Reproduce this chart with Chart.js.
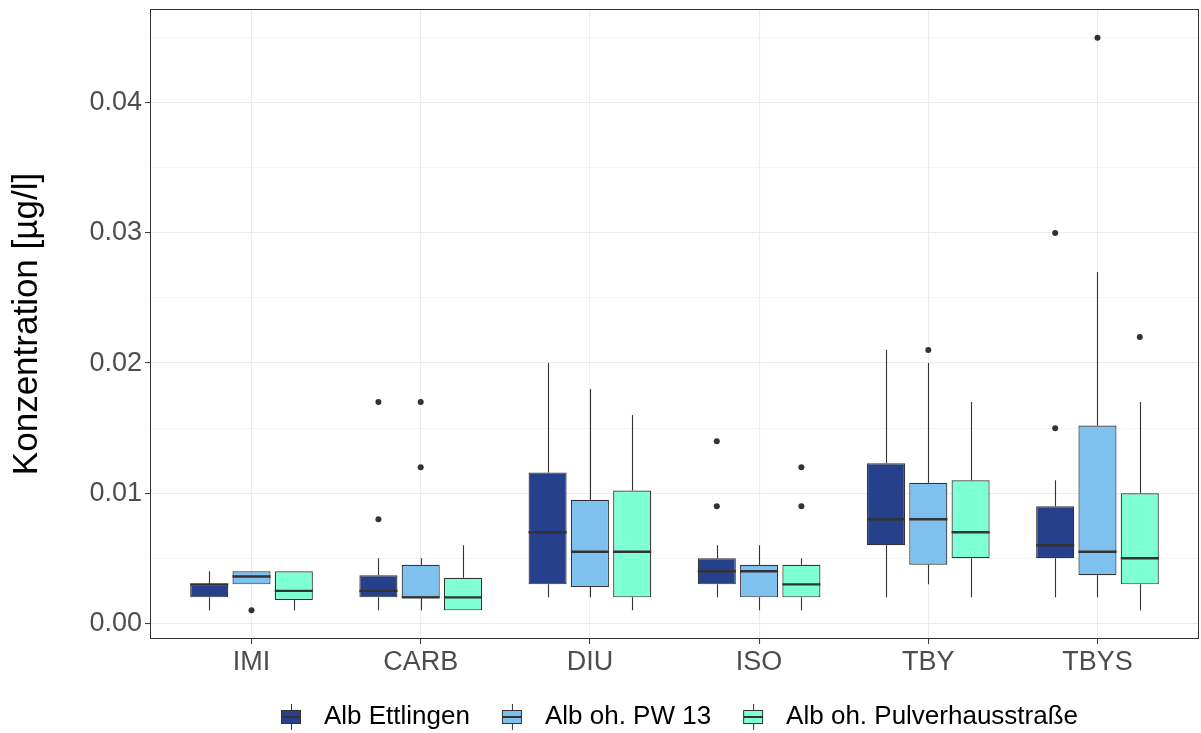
<!DOCTYPE html>
<html>
<head>
<meta charset="utf-8">
<script src="https://cdn.jsdelivr.net/npm/chart.js@4.4.1/dist/chart.umd.min.js"></script>
<style>
html,body{margin:0;padding:0;background:#ffffff;}
#wrap{width:1201px;height:733px;}
</style>
</head>
<body>
<div id="wrap"><canvas id="c" width="1201" height="733"></canvas></div>
<script>
// ---------- data ----------
const categories = ['IMI', 'CARB', 'DIU', 'ISO', 'TBY', 'TBYS'];
const seriesNames = ['Alb Ettlingen', 'Alb oh. PW 13', 'Alb oh. Pulverhausstraße'];
const seriesColors = ['#27408B', '#7EC0EE', '#7FFFD4'];
const yMajorTicks = [0.00, 0.01, 0.02, 0.03, 0.04];
const yMinorTicks = [0.005, 0.015, 0.025, 0.035, 0.045];

// Alb Ettlingen
const ettlingenLow    = [0.001, 0.001,  0.002,  0.002, 0.002,  0.002];
const ettlingenQ1     = [0.002, 0.002,  0.003,  0.003, 0.006,  0.005];
const ettlingenMedian = [0.003, 0.0025, 0.007,  0.004, 0.008,  0.006];
const ettlingenQ3     = [0.003, 0.0037, 0.0116, 0.005, 0.0123, 0.009];
const ettlingenHigh   = [0.004, 0.005,  0.020,  0.006, 0.021,  0.011];
const ettlingenOutliers = [[], [0.008, 0.017], [], [0.009, 0.014], [], [0.015, 0.030]];

// Alb oh. PW 13
const pw13Low    = [0.003,  0.001,  0.002,  0.001,  0.003,  0.002];
const pw13Q1     = [0.003,  0.002,  0.0028, 0.002,  0.0045, 0.0037];
const pw13Median = [0.0036, 0.002,  0.0055, 0.004,  0.008,  0.0055];
const pw13Q3     = [0.004,  0.0045, 0.0095, 0.0045, 0.0108, 0.0152];
const pw13High   = [0.004,  0.005,  0.018,  0.006,  0.020,  0.027];
const pw13Outliers = [[0.001], [0.012, 0.017], [], [], [0.021], [0.045]];

// Alb oh. Pulverhausstraße
const pulverLow    = [0.001,  0.001,  0.001,  0.001,  0.002, 0.001];
const pulverQ1     = [0.0018, 0.001,  0.002,  0.002,  0.005, 0.003];
const pulverMedian = [0.0025, 0.002,  0.0055, 0.003,  0.007, 0.005];
const pulverQ3     = [0.004,  0.0035, 0.0102, 0.0045, 0.011, 0.010];
const pulverHigh   = [0.004,  0.006,  0.016,  0.005,  0.017, 0.017];
const pulverOutliers = [[], [], [], [0.009, 0.012], [], [0.022]];

const stats = [
  {low: ettlingenLow, q1: ettlingenQ1, med: ettlingenMedian, q3: ettlingenQ3, high: ettlingenHigh, out: ettlingenOutliers},
  {low: pw13Low, q1: pw13Q1, med: pw13Median, q3: pw13Q3, high: pw13High, out: pw13Outliers},
  {low: pulverLow, q1: pulverQ1, med: pulverMedian, q3: pulverQ3, high: pulverHigh, out: pulverOutliers}
];

// ---------- styling ----------
const FONT = "'Liberation Sans', Arial, sans-serif";
const INK = '#333333';

function keyCanvas(color) {
  const c = document.createElement('canvas');
  c.width = 22; c.height = 26;
  const g = c.getContext('2d');
  g.strokeStyle = INK;
  g.lineWidth = 1;
  g.beginPath(); g.moveTo(11.5, 0); g.lineTo(11.5, 26); g.stroke();
  g.fillStyle = color;
  g.fillRect(1.5, 6.5, 19, 13);
  g.strokeRect(1.5, 6.5, 19, 13);
  g.lineWidth = 2;
  g.beginPath(); g.moveTo(1.5, 13); g.lineTo(20.5, 13); g.stroke();
  return c;
}
const keys = seriesColors.map(keyCanvas);

const boxExtras = {
  id: 'boxExtras',
  beforeDatasetsDraw(chart) {
    const ctx = chart.ctx, ys = chart.scales.y;
    ctx.save();
    ctx.strokeStyle = INK; ctx.lineWidth = 1.1;
    stats.forEach((s, j) => {
      chart.getDatasetMeta(j).data.forEach((el, i) => {
        const x = Math.round(el.x) + 0.5;
        ctx.beginPath();
        ctx.moveTo(x, ys.getPixelForValue(s.low[i]));
        ctx.lineTo(x, ys.getPixelForValue(s.q1[i]));
        ctx.moveTo(x, ys.getPixelForValue(s.q3[i]));
        ctx.lineTo(x, ys.getPixelForValue(s.high[i]));
        ctx.stroke();
      });
    });
    ctx.restore();
  },
  afterDatasetsDraw(chart) {
    const ctx = chart.ctx, ys = chart.scales.y;
    ctx.save();
    stats.forEach((s, j) => {
      chart.getDatasetMeta(j).data.forEach((el, i) => {
        const y = ys.getPixelForValue(s.med[i]);
        ctx.strokeStyle = INK; ctx.lineWidth = 2.4;
        ctx.beginPath();
        ctx.moveTo(el.x - el.width / 2, y);
        ctx.lineTo(el.x + el.width / 2, y);
        ctx.stroke();
        ctx.fillStyle = INK;
        s.out[i].forEach(v => {
          ctx.beginPath();
          ctx.arc(el.x, ys.getPixelForValue(v), 3, 0, Math.PI * 2);
          ctx.fill();
        });
      });
    });
    const a = chart.chartArea;
    ctx.strokeStyle = INK; ctx.lineWidth = 1;
    ctx.strokeRect(Math.round(a.left) + 0.5, Math.round(a.top) + 0.5,
                   Math.round(a.right - a.left) - 1, Math.round(a.bottom - a.top) - 1);
    ctx.restore();
  }
};

const datasets = stats.map((s, j) => ({
  label: seriesNames[j],
  data: categories.map((c, i) => ({x: i + 1, y: [s.q1[i], s.q3[i]]})),
  backgroundColor: seriesColors[j],
  borderColor: INK,
  borderWidth: 1.2,
  borderSkipped: false,
  categoryPercentage: 0.75,
  barPercentage: 0.9
}));

new Chart(document.getElementById('c'), {
  type: 'bar',
  data: {datasets},
  plugins: [boxExtras],
  options: {
    responsive: false,
    animation: false,
    devicePixelRatio: 1,
    layout: {padding: {left: 0, top: 9, right: 2, bottom: -7}},
    plugins: {
      tooltip: {enabled: false},
      legend: {
        position: 'bottom',
        align: 'center',
        fullSize: false,
        labels: {
          usePointStyle: true,
          pointStyleWidth: 40,
          padding: 22,
          color: '#000000',
          font: {family: FONT, size: 26},
          generateLabels: chart => seriesNames.map((n, j) => ({
            text: n, fillStyle: seriesColors[j], strokeStyle: INK, lineWidth: 0,
            pointStyle: keys[j], hidden: false, datasetIndex: j, fontColor: '#000000'
          }))
        }
      }
    },
    scales: {
      x: {
        type: 'linear',
        min: 0.4, max: 6.6,
        offset: false,
        afterBuildTicks: s => { s.ticks = categories.map((c, i) => ({value: i + 1})); },
        afterFit: s => { s.height = 43; s.paddingLeft = 0; s.paddingRight = 0; },
        ticks: {
          autoSkip: false, maxRotation: 0, padding: 2,
          color: '#4D4D4D', font: {family: FONT, size: 27},
          callback: v => categories[Math.round(v) - 1]
        },
        grid: {offset: false, color: '#EBEBEB', lineWidth: 1.1, tickColor: INK, tickLength: 5, tickWidth: 1},
        border: {display: false}
      },
      y: {
        type: 'linear',
        min: -0.0012, max: 0.0472,
        afterBuildTicks: s => {
          const t = yMajorTicks.map(v => ({value: v, major: true}))
            .concat(yMinorTicks.map(v => ({value: v, major: false})));
          t.sort((a, b) => a.value - b.value);
          s.ticks = t;
        },
        afterFit: s => { s.width = 150; s.paddingTop = 0; s.paddingBottom = 0; },
        ticks: {
          autoSkip: false, padding: 3,
          color: '#4D4D4D', font: {family: FONT, size: 27},
          callback: (v, i, t) => t[i].major ? v.toFixed(2) : ''
        },
        grid: {
          color: '#EBEBEB',
          lineWidth: c => (c.tick && c.tick.major) ? 1.1 : 0.55,
          tickColor: c => (c.tick && c.tick.major) ? INK : 'rgba(0,0,0,0)',
          tickLength: 5, tickWidth: 1
        },
        border: {display: false},
        title: {
          display: true, text: 'Konzentration [µg/l]', color: '#000000',
          font: {family: FONT, size: 35}, padding: {top: 6, bottom: 0}
        }
      }
    }
  }
});
</script>
</body>
</html>
